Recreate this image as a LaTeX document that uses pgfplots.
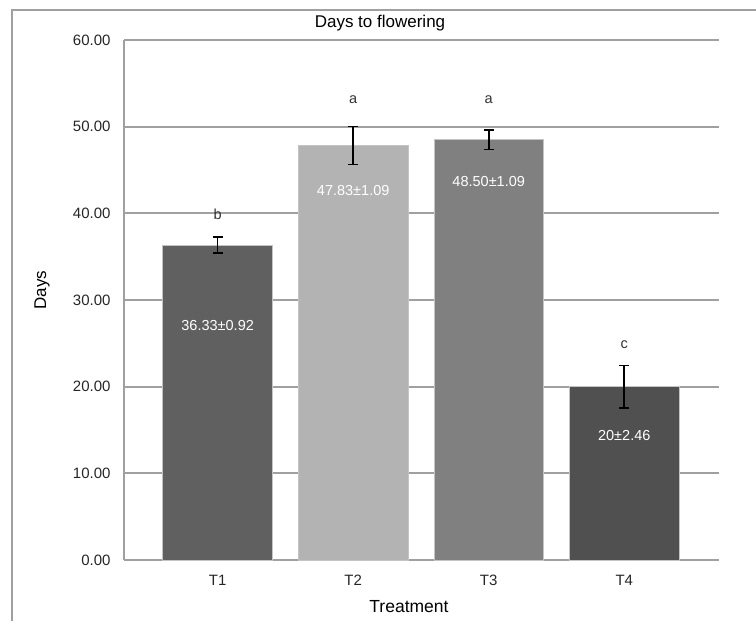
\documentclass[border=0pt]{standalone}
\usepackage{fontspec}
\setmainfont{Liberation Sans}
\usepackage{pgfplots}
\pgfplotsset{compat=1.18}
\definecolor{gridgray}{HTML}{A0A0A0}
\definecolor{cone}{HTML}{606060}
\definecolor{ctwo}{HTML}{B3B3B3}
\definecolor{cthree}{HTML}{808080}
\definecolor{cfour}{HTML}{505050}
\definecolor{edgegray}{HTML}{C4C4C4}
\begin{document}
\begin{tikzpicture}
\path[use as bounding box] (-124bp,-61bp) rectangle (632bp,560bp);
\draw[gridgray, line width=1.6bp] (-112bp,-70bp) -- (-112bp,550bp) -- (640bp,550bp);
\begin{axis}[
  at={(0,0)}, anchor=south west,
  width=595bp, height=520bp, scale only axis,
  xmin=-0.691, xmax=3.699, ymin=0, ymax=60,
  axis lines=left,
  axis line style={-, draw=gridgray, line width=1.8bp},
  ymajorgrids, grid style={gridgray, line width=1.8bp},
  ytick={0,10,20,30,40,50,60},
  xtick={0,1,2,3}, xticklabels={T1,T2,T3,T4},
  major tick length=0pt,
  /pgf/number format/.cd, fixed, fixed zerofill, precision=2, assume math mode=true,
  /pgfplots/.cd,
  yticklabel style={font=\fontsize{15bp}{17bp}\selectfont, anchor=east, xshift=-10bp, text=black!85},
  xticklabel style={font=\fontsize{15bp}{17bp}\selectfont, yshift=-12bp, text=black!85},
  clip=false,
]
\addplot[ybar, bar width=0.809, bar shift=0pt, fill=cone, draw=edgegray, line width=0.8bp,
  error bars/.cd, y dir=both, y explicit,
  error bar style={line width=1.6bp, black},
  error mark options={rotate=90, mark size=5bp, line width=1.6bp, black}]
  coordinates {(0,36.33) +- (0,0.92)};
\addplot[ybar, bar width=0.809, bar shift=0pt, fill=ctwo, draw=edgegray, line width=0.8bp,
  error bars/.cd, y dir=both, y explicit,
  error bar style={line width=1.6bp, black},
  error mark options={rotate=90, mark size=5bp, line width=1.6bp, black}]
  coordinates {(1,47.83) +- (0,2.2)};
\addplot[ybar, bar width=0.809, bar shift=0pt, fill=cthree, draw=edgegray, line width=0.8bp,
  error bars/.cd, y dir=both, y explicit,
  error bar style={line width=1.6bp, black},
  error mark options={rotate=90, mark size=5bp, line width=1.6bp, black}]
  coordinates {(2,48.50) +- (0,1.15)};
\addplot[ybar, bar width=0.809, bar shift=0pt, fill=cfour, draw=edgegray, line width=0.8bp,
  error bars/.cd, y dir=both, y explicit,
  error bar style={line width=1.6bp, black},
  error mark options={rotate=90, mark size=5bp, line width=1.6bp, black}]
  coordinates {(3,20) +- (0,2.46)};
\begin{scope}[every node/.style={font=\fontsize{14.5bp}{16bp}\selectfont}]
\node[text=black!80] at (axis cs:0,39.9) {b};
\node[text=black!80] at (axis cs:1,53.1) {a};
\node[text=black!80] at (axis cs:2,53.1) {a};
\node[text=black!80] at (axis cs:3,24.8) {c};
\node[text=white] at (axis cs:0,27.0) {36.33±0.92};
\node[text=white] at (axis cs:1,42.6) {47.83±1.09};
\node[text=white] at (axis cs:2,43.7) {48.50±1.09};
\node[text=white] at (axis cs:3,14.4) {20±2.46};
\end{scope}
\end{axis}
\node[font=\fontsize{17bp}{20bp}\selectfont] at (256bp,537bp) {Days to flowering};
\node[font=\fontsize{17bp}{20bp}\selectfont, rotate=90] at (-82bp,270bp) {Days};
\node[font=\fontsize{17.5bp}{20bp}\selectfont] at (285bp,-47bp) {Treatment};
\end{tikzpicture}
\end{document}
